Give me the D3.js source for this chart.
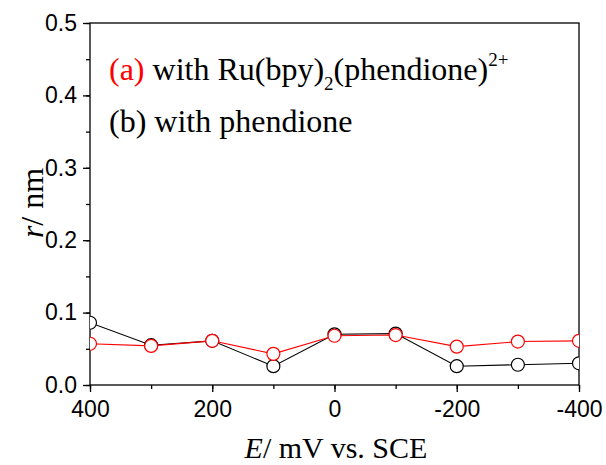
<!DOCTYPE html>
<html>
<head>
<meta charset="utf-8">
<script src="https://cdn.jsdelivr.net/npm/d3@7"></script>
<style>
  body { margin: 0; background: #fff; }
  .tick text { font-family: "Liberation Sans", Arial, sans-serif; font-size: 23px; fill: #000; }
  .serif { font-family: "Liberation Serif", "Times New Roman", serif; }
</style>
</head>
<body>
<svg width="606" height="465"></svg>
<script>
// potentials (mV vs SCE), plotted from +400 down to -400
var potentials = [400, 300, 200, 100, 0, -100, -200, -300, -400];
// (a) with Ru(bpy)2(phendione)2+
var radiusA = [0.057, 0.054, 0.061, 0.043, 0.068, 0.069, 0.053, 0.060, 0.061];
// (b) with phendione
var radiusB = [0.086, 0.055, 0.061, 0.026, 0.070, 0.071, 0.026, 0.028, 0.030];
var xTicks = [400, 200, 0, -200, -400];
var yTicks = [0, 0.1, 0.2, 0.3, 0.4, 0.5];

var svg = d3.select("svg"),
    margin = {top: 23, right: 27, bottom: 80, left: 90},
    width = 606 - margin.left - margin.right,
    height = 465 - margin.top - margin.bottom;

var g = svg.append("g").attr("transform", "translate(" + margin.left + "," + margin.top + ")");

var x = d3.scaleLinear().domain([400, -400]).range([0, width]);
var y = d3.scaleLinear().domain([0, 0.5]).range([height, 0]);

g.append("clipPath").attr("id", "clip")
  .append("rect").attr("width", width).attr("height", height);

// minor ticks
g.append("g")
    .attr("transform", "translate(0," + height + ")")
    .call(d3.axisBottom(x).tickValues(d3.range(-400, 401, 100)).tickSize(4).tickFormat(""));
g.append("g")
    .call(d3.axisLeft(y).tickValues(d3.range(0, 0.51, 0.05)).tickSize(4).tickFormat(""));

// major ticks + labels
g.append("g")
    .attr("transform", "translate(0," + height + ")")
    .call(d3.axisBottom(x).tickValues(xTicks).tickSize(7).tickPadding(9)
      .tickFormat(function(d) { return String(d); }));
g.append("g")
    .call(d3.axisLeft(y).tickValues(yTicks).tickSize(7).tickPadding(6).tickFormat(d3.format(".1f")));
g.selectAll(".tick line").attr("stroke", "#000").attr("stroke-width", 1.3);
g.selectAll(".domain").remove();

// frame
g.append("rect")
    .attr("width", width).attr("height", height)
    .attr("fill", "none").attr("stroke", "#000").attr("stroke-width", 1.3);

var plot = g.append("g").attr("clip-path", "url(#clip)");

function drawSeries(values, color) {
  var pts = potentials.map(function(p, i) { return [p, values[i]]; });
  plot.append("path")
      .datum(pts)
      .attr("fill", "none")
      .attr("stroke", color)
      .attr("stroke-width", 1.1)
      .attr("d", d3.line().x(function(d) { return x(d[0]); }).y(function(d) { return y(d[1]); }));
  plot.selectAll(null)
      .data(pts)
      .enter().append("circle")
      .attr("cx", function(d) { return x(d[0]); })
      .attr("cy", function(d) { return y(d[1]); })
      .attr("r", 6.5)
      .attr("fill", "#fff")
      .attr("stroke", color)
      .attr("stroke-width", 1.2);
}
drawSeries(radiusB, "#000");
drawSeries(radiusA, "#ff0000");

// legend text
var la = svg.append("text").attr("class", "serif").attr("x", 109).attr("y", 80).style("font-size", "32px");
la.append("tspan").attr("fill", "#ff0000").text("(a)");
la.append("tspan").text(" with Ru(bpy)");
la.append("tspan").attr("dy", 10).style("font-size", "19px").text("2");
la.append("tspan").attr("dy", -10).text("(phendione)");
la.append("tspan").attr("dy", -14).style("font-size", "19px").text("2+");

svg.append("text").attr("class", "serif").attr("x", 109).attr("y", 132)
    .style("font-size", "32px").text("(b) with phendione");

// axis titles
var xt = svg.append("text").attr("class", "serif")
    .attr("x", 336).attr("y", 458)
    .attr("text-anchor", "middle").style("font-size", "30px");
xt.append("tspan").style("font-style", "italic").text("E");
xt.append("tspan").text("/ mV vs. SCE");

var yt = svg.append("text").attr("class", "serif")
    .attr("transform", "translate(43,203) rotate(-90)")
    .attr("text-anchor", "middle").style("font-size", "32px");
yt.append("tspan").style("font-style", "italic").text("r");
yt.append("tspan").text("/ nm");
</script>
</body>
</html>
